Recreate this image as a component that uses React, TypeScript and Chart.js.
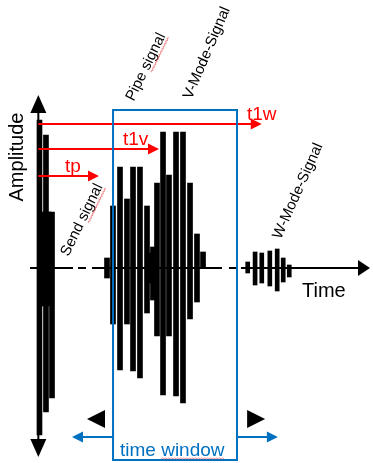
import React, { useEffect, useRef } from 'react';
import { Chart, registerables } from 'chart.js';

Chart.register(...registerables);

// ---- Data (time units / amplitude units) ----
const sendTimes = [0.22, 0.6, 1.19, 1.57, 2.09];
const sendLow = [-16.7, -3.8, -14.4, -3.8, -13.0];
const sendHigh = [14.8, 5.6, 13.3, 5.6, 5.6];

const vTimes = [10.3, 11.19, 12.24, 13.28, 14.18, 15.22, 16.27, 16.72, 17.16, 17.76, 18.66, 19.55, 20.6, 21.64, 22.69, 23.73, 24.63];
const vLow = [-1.0, -5.6, -10.2, -5.6, -10.3, -11.0, -4.5, -1.5, -3.2, -6.8, -12.7, -6.8, -12.8, -13.5, -5.1, -3.4, 0];
const vHigh = [1.0, 6.2, 10.1, 6.9, 10.1, 10.1, 6.2, 1.5, 2.1, 8.5, 13.6, 9.3, 13.6, 13.6, 8.5, 3.4, 1.6];

const wTimes = [31.3, 32.4, 33.4, 34.6, 35.7, 36.6, 37.5];
const wLow = [-0.5, -1.7, -1.5, -1.8, -2.3, -1.4, -0.9];
const wHigh = [0.6, 1.6, 1.5, 1.7, 1.9, 1.0, 0.3];

const arrivalLabels = ['tp', 't1v', 't1w'];
const arrivalTimes = [9.1, 18.06, 33.4];
const arrivalLevels = [9.2, 11.9, 14.4];
const arrivalLabelTimes = [4.03, 12.69, 31.19];

const windowStart = 11.2;
const windowEnd = 29.7;
const windowTop = 15.8;
const windowBottom = -19.2;

const signalNames = ['Send signal', 'Pipe signal', 'V-Mode-Signal', 'W-Mode-Signal'];
const signalNameTimes = [6.57, 16.12, 25.22, 38.81];
const signalNameLevels = [4.8, 20.1, 21.5, 7.7];
const signalNameAngles = [-64, -64, -67, -66];

const X_MIN = -5.672;
const X_MAX = 50;
const Y_MIN = -19.5;
const Y_MAX = 26.8;

const FONT = '"Liberation Sans", Arial, sans-serif';
const RED = '#ff0000';
const BLUE = '#0070c0';

function arrowHead(ctx: CanvasRenderingContext2D, x: number, y: number, ang: number, len: number, hw: number, color: string) {
  ctx.save();
  ctx.translate(x, y);
  ctx.rotate(ang);
  ctx.beginPath();
  ctx.moveTo(0, 0);
  ctx.lineTo(-len, -hw);
  ctx.lineTo(-len, hw);
  ctx.closePath();
  ctx.fillStyle = color;
  ctx.fill();
  ctx.restore();
}

function squiggle(ctx: CanvasRenderingContext2D, x0: number, x1: number, y: number) {
  ctx.save();
  ctx.strokeStyle = 'rgba(235,90,90,0.7)';
  ctx.lineWidth = 1;
  ctx.beginPath();
  let up = true;
  ctx.moveTo(x0, y);
  for (let x = x0 + 1.5; x <= x1; x += 1.5) {
    ctx.lineTo(x, y + (up ? -0.6 : 0.6));
    up = !up;
  }
  ctx.stroke();
  ctx.restore();
}

const diagramPlugin = {
  id: 'diagram',
  afterDatasetsDraw(chart: any) {
    const ctx: CanvasRenderingContext2D = chart.ctx;
    const xs = chart.scales.x;
    const ys = chart.scales.y;
    const X = (t: number) => xs.getPixelForValue(t);
    const Y = (a: number) => ys.getPixelForValue(a);

    ctx.save();
    // Horizontal (time) axis, partly dashed
    const base = Y(0);
    const segs: [number, number][] = [[-1.19, 5.22], [5.97, 7.16], [8.06, 27.46], [28.5, 29.55], [30.3, 48.5]];
    ctx.strokeStyle = '#000';
    ctx.lineWidth = 2;
    segs.forEach(([a, b]) => {
      ctx.beginPath();
      ctx.moveTo(X(a), base);
      ctx.lineTo(X(b), base);
      ctx.stroke();
    });
    arrowHead(ctx, X(49.55), base, 0, 12, 8, '#000');

    // Vertical (amplitude) axis
    const ax = X(0.05);
    ctx.beginPath();
    ctx.moveTo(ax, Y(15.8));
    ctx.lineTo(ax, Y(-17.3));
    ctx.stroke();
    arrowHead(ctx, ax, Y(17.3), -Math.PI / 2, 18, 8, '#000');
    arrowHead(ctx, ax, Y(-18.9), Math.PI / 2, 18, 8, '#000');

    // Red arrival arrows
    ctx.font = `19px ${FONT}`;
    ctx.textAlign = 'left';
    ctx.textBaseline = 'alphabetic';
    arrivalTimes.forEach((t, i) => {
      const y = Y(arrivalLevels[i]);
      ctx.strokeStyle = RED;
      ctx.lineWidth = 2;
      ctx.beginPath();
      ctx.moveTo(ax, y);
      ctx.lineTo(X(t) - 6, y);
      ctx.stroke();
      arrowHead(ctx, X(t), y, 0, 11, 5.5, RED);
      ctx.fillStyle = RED;
      ctx.fillText(arrivalLabels[i], X(arrivalLabelTimes[i]), y - 4);
    });

    // Time window box
    ctx.strokeStyle = BLUE;
    ctx.lineWidth = 2;
    const bl = X(windowStart), br = X(windowEnd), bt = Y(windowTop), bb = Y(windowBottom);
    ctx.strokeRect(bl, bt, br - bl, bb - bt);
    const ay = Y(-16.9);
    ctx.beginPath();
    ctx.moveTo(bl, ay);
    ctx.lineTo(X(5.07) + 6, ay);
    ctx.moveTo(br, ay);
    ctx.lineTo(X(35.8) - 6, ay);
    ctx.stroke();
    arrowHead(ctx, X(5.07), ay, Math.PI, 11, 5.5, BLUE);
    arrowHead(ctx, X(35.8), ay, 0, 11, 5.5, BLUE);

    // Black shift triangles
    const ty = Y(-15.1);
    arrowHead(ctx, X(7.31), ty, Math.PI, 18, 9, '#000');
    arrowHead(ctx, X(33.9), ty, 0, 18, 9, '#000');

    // time window label
    ctx.font = `19px ${FONT}`;
    ctx.fillStyle = BLUE;
    const twx = X(12.24), twy = Y(-18.8);
    ctx.fillText('time window', twx, twy);
    const wStart = twx + ctx.measureText('time ').width;
    const wEnd = twx + ctx.measureText('time window').width;
    squiggle(ctx, wStart, wEnd, twy + 2.5);

    // Axis titles
    ctx.fillStyle = '#000';
    ctx.font = `20px ${FONT}`;
    ctx.fillText('Time', X(39.4), Y(-2.9));
    ctx.save();
    ctx.translate(X(-2.99), Y(11.1));
    ctx.rotate(-Math.PI / 2);
    ctx.textAlign = 'center';
    ctx.textBaseline = 'middle';
    ctx.fillText('Amplitude', 0, 0);
    ctx.restore();

    // Rotated signal names
    ctx.font = `15px ${FONT}`;
    signalNames.forEach((name, i) => {
      ctx.save();
      ctx.translate(X(signalNameTimes[i]), Y(signalNameLevels[i]));
      ctx.rotate((signalNameAngles[i] * Math.PI) / 180);
      ctx.textAlign = 'center';
      ctx.textBaseline = 'middle';
      ctx.fillStyle = '#000';
      ctx.fillText(name, 0, 0);
      if (name.endsWith(' signal')) {
        const w = ctx.measureText(name).width;
        const off = ctx.measureText(name.replace('signal', '')).width;
        squiggle(ctx, -w / 2 + off, w / 2, 7);
      }
      ctx.restore();
    });

    ctx.restore();
  },
};

export default function App() {
  const ref = useRef<HTMLCanvasElement | null>(null);

  useEffect(() => {
    document.body.style.margin = '0';
    if (!ref.current) return;
    const mk = (ts: number[], lo: number[], hi: number[]) => ts.map((t, i) => ({ x: t, y: [lo[i], hi[i]] }));
    const chart = new Chart(ref.current, {
      type: 'bar',
      data: {
        datasets: [
          { label: 'Send signal', data: mk(sendTimes, sendLow, sendHigh) as any, backgroundColor: '#000', barThickness: 5, grouped: false } as any,
          { label: 'Pipe / V-Mode signal', data: mk(vTimes, vLow, vHigh) as any, backgroundColor: '#000', barThickness: 5, grouped: false } as any,
          { label: 'W-Mode signal', data: mk(wTimes, wLow, wHigh) as any, backgroundColor: '#000', barThickness: 4, grouped: false } as any,
        ],
      },
      options: {
        animation: false,
        responsive: true,
        maintainAspectRatio: false,
        events: [],
        layout: { padding: 0 },
        plugins: { legend: { display: false }, tooltip: { enabled: false }, title: { display: false } },
        scales: {
          x: { type: 'linear', min: X_MIN, max: X_MAX, display: false, offset: false } as any,
          y: { type: 'linear', min: Y_MIN, max: Y_MAX, display: false },
        },
      },
      plugins: [diagramPlugin],
    });
    return () => chart.destroy();
  }, []);

  return (
    <div style={{ width: 373, height: 463, position: 'relative', background: '#fff' }}>
      <canvas ref={ref} />
    </div>
  );
}
